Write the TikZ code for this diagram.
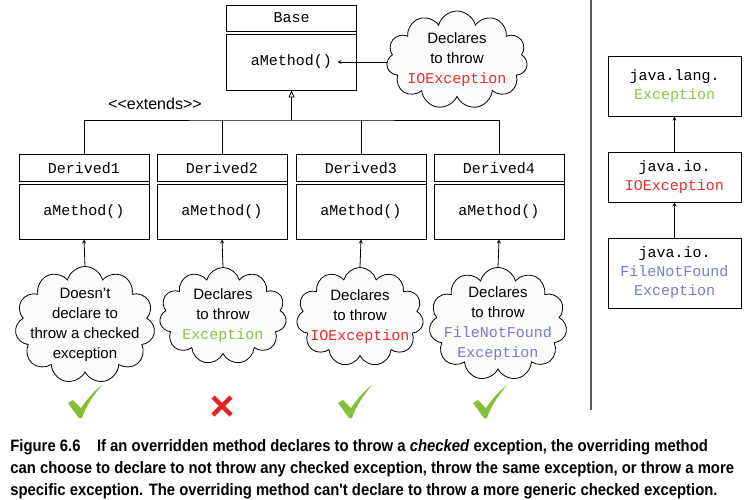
\documentclass[tikz,border=0pt]{standalone}
\usepackage{fontspec}
\setmainfont{Liberation Sans}
\setmonofont{Liberation Mono}
\newfontfamily\capfont[FakeStretch=0.9]{Liberation Sans}
\usetikzlibrary{shapes.symbols,arrows.meta}
\definecolor{exgreen}{RGB}{141,193,70}
\definecolor{exred}{RGB}{236,45,45}
\definecolor{exblue}{RGB}{117,125,200}
\definecolor{okgreen}{RGB}{133,190,55}
\definecolor{nored}{RGB}{228,36,36}
\newcommand{\exname}[2]{\textcolor{#1}{\fontsize{15}{20}\ttfamily #2}}

\begin{document}
\begin{tikzpicture}[x=1pt,y=-1pt,line width=0.8pt,>=stealth,
	umlbox/.style={draw,minimum width=130pt,minimum height=85pt,inner sep=0pt},
	mono/.style={font=\fontsize{15}{19}\ttfamily,inner sep=0pt},
	bubble/.style={draw,fill=gray!3,cloud,cloud puffs=11,cloud ignores aspect,inner sep=-14pt,align=center,font=\fontsize{15}{20}\selectfont},
	exbox/.style={draw,minimum width=133pt,inner sep=0pt,align=center,font=\fontsize{15}{19}\ttfamily},
	okmark/.pic={\fill[okgreen] (-17,1) -- (-12,-2) -- (-4,6) .. controls (3,-4) and (9,-11) .. (17,-17) .. controls (8,-6) and (1,4) .. (-3,16) -- (-6,16) -- cycle;},
	nomark/.pic={\draw[nored,line width=4.5pt] (-9,-9) -- (9,9) (-9,9) -- (9,-9);}]
	\useasboundingbox (0,0) rectangle (747,499);
	% base class
	\node[umlbox] (base) at (291.5,47.5) {};
	\node[mono] (bt) at (291.5,18) {Base};
	\node[mono] (bm) at (291.5,62) {aMethod()};
	\draw[double distance=2.2pt] (base.north west) ++(0,28.5) -- ++(130,0);
	\node[bubble,minimum width=141pt,minimum height=98pt] (c0) at (457,60) {Declares\\to throw\\\exname{exred}{IOException}};
	\draw[->] (c0.west |- bm.east) -- ([xshift=5pt]bm.east);
	% derived classes
	\foreach \i/\x in {1/84,2/222,3/361,4/499} {
		\node[umlbox] (d\i) at (\x,196.5) {};
		\node[mono] (t\i) at (\x,168) {Derived\i};
		\node[mono] (m\i) at (\x,212) {aMethod()};
		\draw[double distance=2.2pt] (d\i.north west) ++(0,29.5) -- ++(130,0);
	}
	\coordinate (hub) at (291.5,120);
	\draw (d1.north) |- (hub) -| (d4.north);
	\draw (d2.north) -- (d2.north |- hub) (d3.north) -- (d3.north |- hub);
	\draw[-{Triangle[open,width=6pt,length=7pt]}] (hub) -- (base.south);
	\node[font=\fontsize{16}{18}\selectfont] (ext) at (155,104) {{<}{<}extends{>}{>}};
	% clouds
	\node[bubble,minimum width=140pt,minimum height=117pt] (c1) at (85,325) {Doesn't\\declare to\\throw a checked\\exception};
	\node[bubble,minimum width=127pt,minimum height=97pt] (c2) at (223,316) {Declares\\to throw\\\exname{exgreen}{Exception}};
	\node[bubble,minimum width=127pt,minimum height=99pt] (c3) at (360,317) {Declares\\to throw\\\exname{exred}{IOException}};
	\node[bubble,minimum width=138pt,minimum height=113pt] (c4) at (498,324) {Declares\\to throw\\\exname{exblue}{FileNotFound}\\\exname{exblue}{Exception}};
	\foreach \i in {1,...,4}
		\draw[->] (c\i.north) -- (d\i.south);
	\pic at (85,402) {okmark};
	\pic at (222,406) {nomark};
	\pic at (355,402) {okmark};
	\pic at (490,402) {okmark};
	% exception hierarchy
	\draw[line width=1.2pt,gray!70!black] (591,0) -- (591,410);
	\node[exbox,minimum height=60pt] (r1) at (674.5,86) {java.lang.\\\textcolor{exgreen}{Exception}};
	\node[exbox,minimum height=50pt] (r2) at (674.5,177) {java.io.\\\textcolor{exred}{IOException}};
	\node[exbox,minimum height=70pt] (r3) at (674.5,273) {java.io.\\\textcolor{exblue}{FileNotFound}\\\textcolor{exblue}{Exception}};
	\draw[->] (r2) -- (r1);
	\draw[->] (r3) -- (r2);
	% caption
	\node[anchor=north west,align=left,inner sep=0pt,font=\capfont\bfseries\fontsize{16.5}{22}\selectfont] (cap) at (10,439) {Figure 6.6\hspace{1em}If an overridden method declares to throw a \textit{checked} exception, the overriding method\\can choose to declare to not throw any checked exception, throw the same exception, or throw a more\\specific exception. The overriding method can't declare to throw a more generic checked exception.};
\end{tikzpicture}
\end{document}
